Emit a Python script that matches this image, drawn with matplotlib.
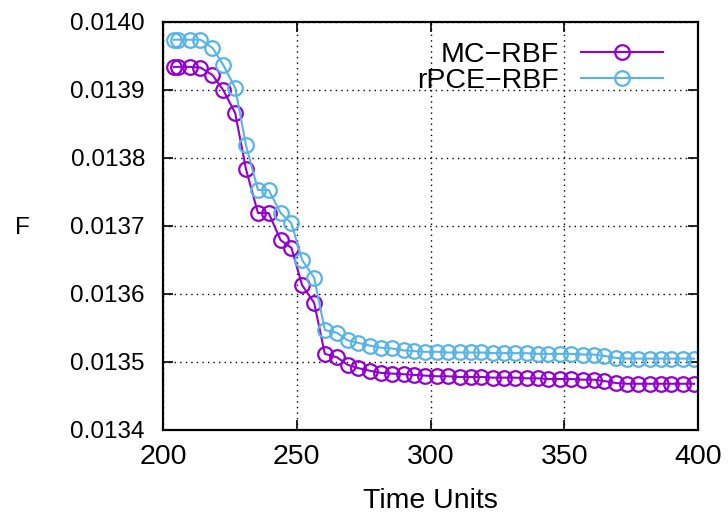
"""F vs time units, MC-RBF against rPCE-RBF"""
import matplotlib
matplotlib.use('Agg')
import matplotlib.pyplot as plt

plt.rcParams['font.family'] = ['Liberation Sans', 'DejaVu Sans']

"""values read off the reference picture"""
time_units = [204, 205.5, 210, 214, 218.5, 222.5, 227, 231, 235.5, 239.5,
              244, 248, 252, 256.5, 260.5, 265, 269, 273, 277.5, 281.5,
              285.5, 290, 294, 298, 302.5, 306.5, 311, 315, 319, 323.5,
              327.5, 331.5, 336, 340, 344, 348.5, 352.5, 357, 361, 365,
              369.5, 373.5, 377.5, 382, 386, 390, 394.5, 398.5]
mc_rbf = [0.013934, 0.013934, 0.013934, 0.013933, 0.013922, 0.013900, 0.013866, 0.013784, 0.013719, 0.013719,
          0.013679, 0.013668, 0.013613, 0.013587, 0.013512, 0.013507, 0.013496, 0.013491, 0.013487, 0.013484,
          0.013483, 0.013482, 0.013481, 0.013480, 0.013479, 0.013479, 0.013478, 0.013478, 0.013478, 0.013477,
          0.013477, 0.013477, 0.013476, 0.013476, 0.013475, 0.013475, 0.013475, 0.013474, 0.013474, 0.013472,
          0.013469, 0.013468, 0.013468, 0.013468, 0.013468, 0.013468, 0.013468, 0.013468]
rpce_rbf = [0.013974, 0.013974, 0.013974, 0.013974, 0.013962, 0.013937, 0.013903, 0.013819, 0.013753, 0.013753,
            0.013719, 0.013704, 0.013650, 0.013624, 0.013547, 0.013543, 0.013532, 0.013528, 0.013524, 0.013521,
            0.013520, 0.013517, 0.013516, 0.013515, 0.013515, 0.013514, 0.013514, 0.013514, 0.013514, 0.013513,
            0.013513, 0.013513, 0.013513, 0.013512, 0.013512, 0.013512, 0.013512, 0.013511, 0.013511, 0.013509,
            0.013506, 0.013505, 0.013505, 0.013505, 0.013505, 0.013505, 0.013505, 0.013505]

"""making the chart"""
fig = plt.figure(figsize=(7.28, 5.16), dpi=100)
ax = fig.add_axes([163/728, 1-430/516, 535/728, 408/516])

ax.plot(time_units, mc_rbf, color='#9400d3', linewidth=1.5, marker='o', markersize=10.5,
        fillstyle='none', markeredgewidth=1.6, label='MC\u2212RBF')
ax.plot(time_units, rpce_rbf, color='#56b4e9', linewidth=1.5, marker='o', markersize=10.5,
        fillstyle='none', markeredgewidth=1.6, label='rPCE\u2212RBF')

ax.set_xlim(200, 400)
ax.set_ylim(0.0134, 0.0140)
ax.set_xticks([200, 250, 300, 350, 400])
ax.set_yticks([0.0134, 0.0135, 0.0136, 0.0137, 0.0138, 0.0139, 0.0140])
ax.set_yticklabels(['0.0134', '0.0135', '0.0136', '0.0137', '0.0138', '0.0139', '0.0140'])

"""gnuplot look: inside ticks on all sides, dotted grid"""
ax.tick_params(direction='in', length=7, width=1.2, top=True, right=True)
ax.tick_params(axis='x', labelsize=20.5, pad=10)
ax.tick_params(axis='y', labelsize=17.5, pad=13)
ax.grid(True, color='black', linestyle=(0, (1, 3)), linewidth=1)
for s in ax.spines.values():
    s.set_linewidth(1.6)

"""axis labels"""
ax.set_xlabel('Time Units', fontsize=20.5, labelpad=13)
fig.text(22/728, 1-228/516, 'F', fontsize=17.5, ha='center', va='center')

"""legend"""
ax.legend(loc='upper right', bbox_to_anchor=(0.935, 0.952), frameon=False,
          markerfirst=False, fontsize=20.5, handlelength=2.9, handletextpad=0.77,
          labelspacing=0.0, borderpad=0, borderaxespad=0, numpoints=1)

plt.savefig('out.png', dpi=100)
